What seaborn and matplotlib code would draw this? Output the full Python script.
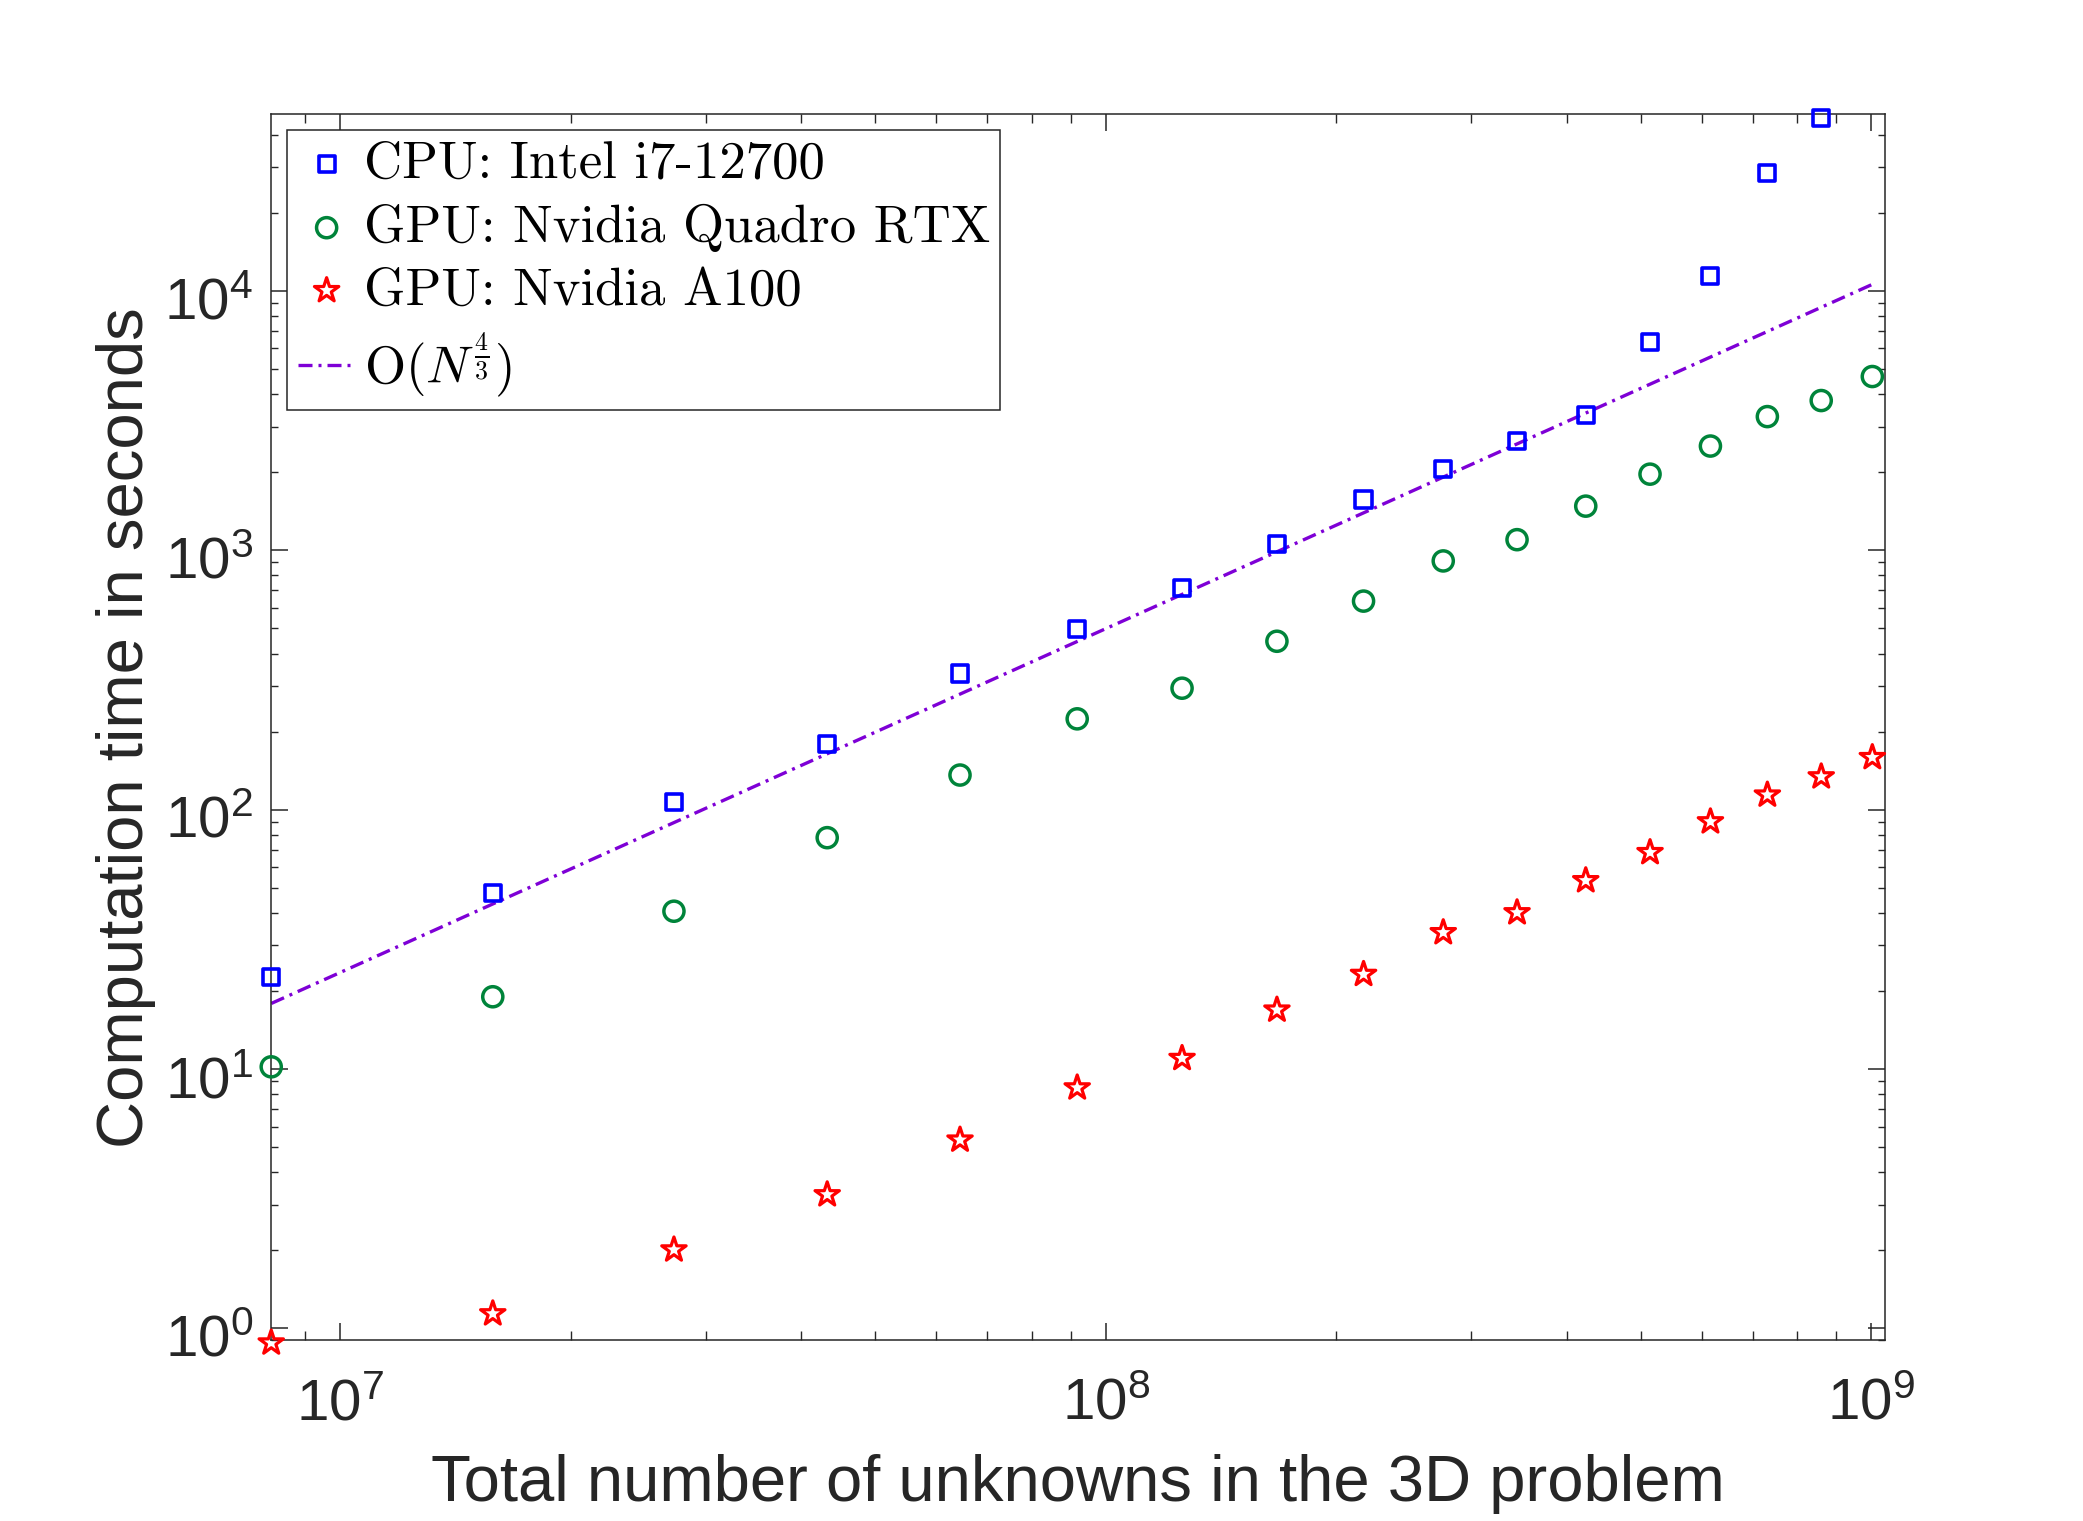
import matplotlib
matplotlib.use('Agg')
import numpy as np
import matplotlib.pyplot as plt
import matplotlib.transforms as mtransforms
import seaborn as sns
from matplotlib.ticker import LogLocator, NullFormatter

# problem sizes (total unknowns) and timings
unknowns = [8120601, 15813251, 27270901, 43243551, 64481201, 91733851,
            125751501, 167284151, 217081801, 275894451, 344472101, 423564751,
            513922401, 616295051, 731432701, 860085351, 1003003001]
cpu_time = [22.7, 47.9, 107, 179, 335, 497, 717, 1061, 1570, 2063,
            2648, 3317, 6370, 11400, 28400, 46500]
quadro_time = [10.2, 19.0, 40.6, 78, 136, 224, 294, 446, 637, 910,
               1099, 1480, 1966, 2523, 3277, 3779, 4677]
a100_time = [0.88, 1.14, 2.01, 3.28, 5.33, 8.47, 11.0, 16.9, 23.2, 33.6,
             40.1, 53.3, 68.4, 89.9, 114, 134, 159]
ref_x = [8120601, 1003003001]
ref_y = [17.9, 10600]

labels = ['CPU: Intel i7-12700', 'GPU: Nvidia Quadro RTX', 'GPU: Nvidia A100',
          r'$\mathrm{O}(N^{\frac{4}{3}})$']

sns.set_style('ticks')
plt.rcParams['font.family'] = ['Liberation Sans', 'DejaVu Sans']
plt.rcParams['mathtext.fontset'] = 'cm'
plt.rcParams['axes.formatter.use_mathtext'] = True

dark = '#262626'
fig = plt.figure(figsize=(20.83, 15.21), dpi=100)
ax = fig.add_axes([0.1302, 0.1188, 0.7749, 0.8061])

sns.scatterplot(x=unknowns[:len(cpu_time)], y=cpu_time, ax=ax, marker='s', s=135,
                facecolor='none', edgecolor='#0000ff', linewidth=2.6,
                clip_on=False, zorder=3, label=labels[0])
sns.scatterplot(x=unknowns, y=quadro_time, ax=ax, marker='o', s=210,
                facecolor='none', edgecolor='#00843a', linewidth=2.5,
                clip_on=False, zorder=3, label=labels[1])
sns.scatterplot(x=unknowns, y=a100_time, ax=ax, marker='*', s=340,
                facecolor='none', edgecolor='#ff0000', linewidth=2.3,
                clip_on=False, zorder=3, label=labels[2])
sns.lineplot(x=ref_x, y=ref_y, ax=ax, color='#7e00d6', linewidth=2.4,
             dashes=False, label=labels[3])
ax.lines[-1].set_dashes((4.2, 1.8, 0.9, 1.8))

ax.set_xscale('log')
ax.set_yscale('log')
ax.set_xlim(8.12e6, 1.043e9)
ax.set_ylim(0.9, 4.8e4)

for axis in (ax.xaxis, ax.yaxis):
    axis.set_major_locator(LogLocator(base=10, numticks=20))
    axis.set_minor_locator(LogLocator(base=10, subs=np.arange(2, 10), numticks=100))
    axis.set_minor_formatter(NullFormatter())

ax.tick_params(which='both', direction='in', top=True, right=True, color=dark)
ax.tick_params(which='major', length=12, width=1.1, labelsize=42, labelcolor=dark)
ax.tick_params(axis='x', which='minor', length=6.5, width=1.0)
ax.tick_params(axis='y', which='minor', length=5, width=1.0)
ax.tick_params(axis='x', which='major', pad=27)
ax.tick_params(axis='y', which='major', pad=13)

# y tick labels sit a little below their ticks in the reference
shift = mtransforms.ScaledTranslation(0, -0.07, fig.dpi_scale_trans)
for tk in ax.yaxis.get_major_ticks():
    tk.label1.set_transform(tk.label1.get_transform() + shift)

for sp in ax.spines.values():
    sp.set_linewidth(1.1)
    sp.set_color(dark)

ax.set_xlabel('Total number of unknowns in the 3D problem', fontsize=47,
              color=dark, labelpad=16)
ax.set_ylabel('Computation time in seconds', fontsize=47, color=dark, labelpad=6)

leg = ax.legend(loc='upper left', borderaxespad=0.3, prop={'family': 'cmr10', 'size': 38},
                frameon=True, fancybox=False, edgecolor=dark, framealpha=1,
                handlelength=1.1, handletextpad=0.15, labelspacing=0.3, borderpad=0.2)
leg.get_frame().set_linewidth(1.1)
for t in leg.get_texts():
    t.set_color('black')

fig.savefig('out.png', dpi=100, facecolor='white')
